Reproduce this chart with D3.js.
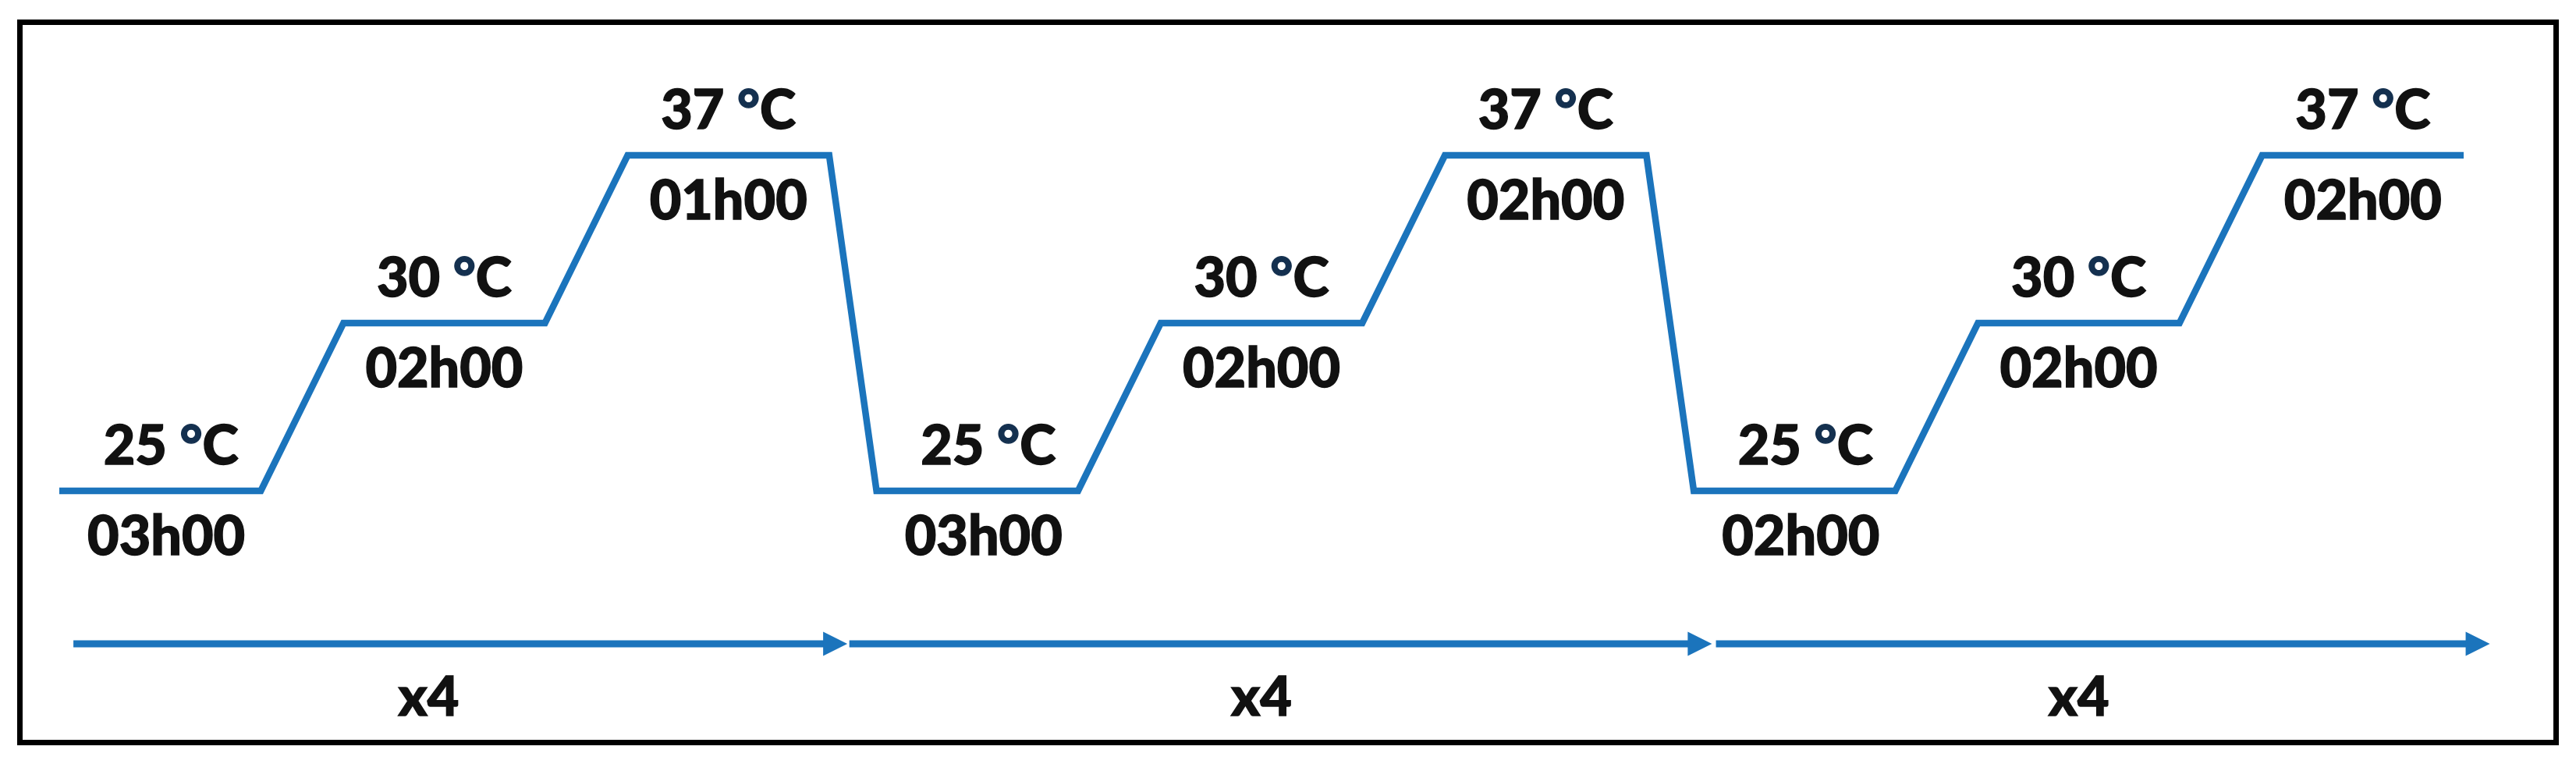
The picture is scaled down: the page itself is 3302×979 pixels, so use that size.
<!DOCTYPE html>
<html>
<head>
<meta charset="utf-8">
<script src="https://cdn.jsdelivr.net/npm/d3@7/dist/d3.min.js"></script>
<style>
  html, body { margin: 0; padding: 0; background: #fff; }
  svg { display: block; }
  text { font-family: Lato, "Open Sans", sans-serif; font-weight: 900; fill: #111; stroke: #111; stroke-width: 1.4px; }
</style>
</head>
<body>
<svg id="chart" width="3302" height="979"></svg>
<script>
// ---- data ----
const cycles = ["Cycle 1", "Cycle 2", "Cycle 3"];
const temperatures = [25, 30, 37];
const durations = [
  ["03h00", "02h00", "01h00"],
  ["03h00", "02h00", "02h00"],
  ["02h00", "02h00", "02h00"]
];
const repeatLabels = ["x4", "x4", "x4"];
// spans of the repeat arrows, in step units along the time axis
const repeatSpans = [[0.07, 3.91], [3.92, 8.20], [8.22, 12.06]];

// ---- layout ----
const W = 3302, H = 979;
const holdU = 1, rampU = 0.41, dropU = 0.235;
const blue = "#1B74BC";

// build step points
const points = [];
const holds = [];
let u = 0;
cycles.forEach((c, ci) => {
  if (ci > 0) u += dropU;
  temperatures.forEach((t, ti) => {
    if (ti > 0) u += rampU;
    points.push({u: u, t: t});
    holds.push({cycle: ci, idx: ti, t: t, u0: u, u1: u + holdU, dur: durations[ci][ti]});
    u += holdU;
    points.push({u: u, t: t});
  });
});
const totalU = u;

const x = d3.scaleLinear().domain([0, totalU]).range([76, 3158]);
const y = d3.scalePoint().domain(temperatures).range([629, 199]);

const svg = d3.select("#chart");
svg.append("rect").attr("width", W).attr("height", H).attr("fill", "#fff");

// frame
svg.append("rect")
  .attr("x", 25.5).attr("y", 28.5).attr("width", 3251).attr("height", 923)
  .attr("fill", "none").attr("stroke", "#000").attr("stroke-width", 7);

// step profile
const line = d3.line().x(d => x(d.u)).y(d => y(d.t));
svg.append("path")
  .datum(points)
  .attr("d", line)
  .attr("fill", "none")
  .attr("stroke", blue)
  .attr("stroke-width", 8.5)
  .attr("stroke-linejoin", "miter")
  .attr("stroke-linecap", "butt");

// temperature labels
const tl = svg.selectAll("text.temp").data(holds).join("text")
  .attr("class", "temp")
  .attr("x", d => x((d.u0 + d.u1) / 2) + (d.idx === 0 ? 14 : 0))
  .attr("y", d => y(d.t) - 34)
  .attr("text-anchor", "middle")
  .attr("font-size", 70);
tl.append("tspan").text(d => d.t + " ");
tl.append("tspan").style("fill", "#14304f").style("stroke", "#14304f").text("°");
tl.append("tspan").text("C");

// duration labels
svg.selectAll("text.dur").data(holds).join("text")
  .attr("class", "dur")
  .attr("x", d => x((d.u0 + d.u1) / 2) + (d.idx === 0 ? 8 : 0))
  .attr("y", d => y(d.t) + 82)
  .attr("text-anchor", "middle")
  .attr("font-size", 70)
  .text(d => d.dur);

// repeat arrows
const ay = 825, headL = 31, headW = 15.5;
const arrows = svg.selectAll("g.arrow").data(repeatSpans).join("g").attr("class", "arrow");
arrows.append("line")
  .attr("x1", d => x(d[0]))
  .attr("x2", d => x(d[1]) - headL + 2)
  .attr("y1", ay).attr("y2", ay)
  .attr("stroke", blue).attr("stroke-width", 9);
arrows.append("path")
  .attr("d", d => {
    const tip = x(d[1]);
    return `M${tip},${ay} L${tip - headL},${ay - headW} L${tip - headL},${ay + headW} Z`;
  })
  .attr("fill", blue);

// repeat labels, centred under each cycle's middle hold
const middles = holds.filter(h => h.idx === 1);
svg.selectAll("text.rep").data(repeatLabels).join("text")
  .attr("class", "rep")
  .attr("x", (d, i) => x((middles[i].u0 + middles[i].u1) / 2) - (i === 0 ? 20 : 0))
  .attr("y", 917)
  .attr("text-anchor", "middle")
  .attr("font-size", 70)
  .text(d => d);
</script>
</body>
</html>
